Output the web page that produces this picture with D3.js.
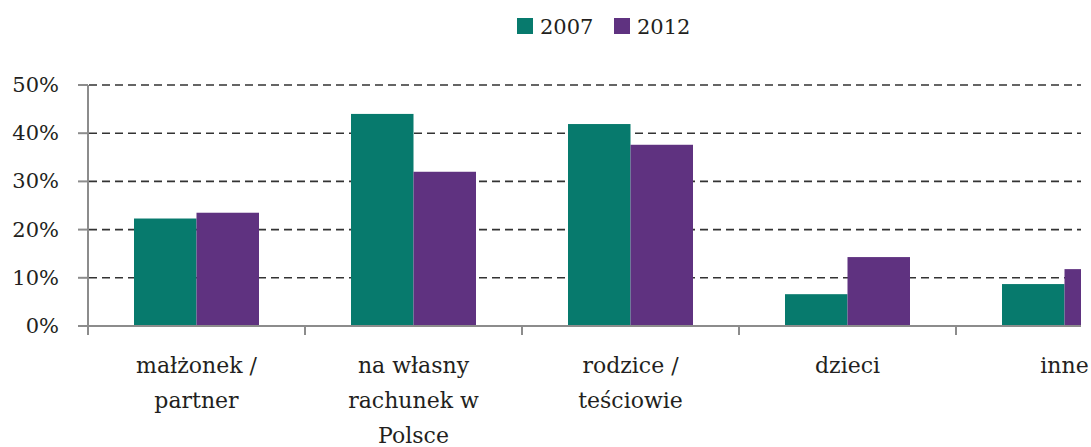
<!DOCTYPE html>
<html><head><meta charset="utf-8">
<script src="https://cdn.jsdelivr.net/npm/d3@7/dist/d3.min.js"></script>
<style>body{margin:0;background:#fff}svg{display:block}text{font-family:"DejaVu Serif",serif;fill:#231f20}</style>
</head><body><svg id="c" width="1091" height="447"></svg>
<script>
const categories = [["małżonek /","partner"],["na własny","rachunek w","Polsce"],["rodzice /","teściowie"],["dzieci"],["inne"]];
const series = ["2007","2012"];
const values2007 = [22.3, 44.0, 41.9, 6.6, 8.7];
const values2012 = [23.5, 32.0, 37.6, 14.3, 11.8];
const colors = ["#077a6d","#5f3280"];
const yTicks = [0,10,20,30,40,50];

const svg = d3.select("#c");
const keys = categories.map((c,i)=>"c"+i);
const x0 = d3.scaleBand().domain(keys).range([88,1173]).paddingInner(0).paddingOuter(0);
const x1 = d3.scaleBand().domain(series).range([0,x0.bandwidth()]).paddingInner(0).paddingOuter(0.736);
const y = d3.scaleLinear().domain([0,50]).range([326,85]);
const vals = [values2007, values2012];

svg.append("defs").append("clipPath").attr("id","clip").append("rect").attr("x",0).attr("y",0).attr("width",1081).attr("height",447);
const plot = svg.append("g").attr("clip-path","url(#clip)");

// gridlines
plot.append("g").selectAll("line").data(yTicks.filter(d=>d>0)).join("line")
  .attr("x1",89).attr("x2",1081).attr("y1",d=>y(d)).attr("y2",d=>y(d))
  .attr("stroke","#333").attr("stroke-width",1.6).attr("stroke-dasharray","8,5");

// bars
series.forEach((s,si)=>{
  plot.append("g").selectAll("rect").data(vals[si]).join("rect")
    .attr("x",(d,i)=>x0(keys[i])+x1(s)).attr("width",x1.bandwidth())
    .attr("y",d=>y(d)).attr("height",d=>y(0)-y(d)).attr("fill",colors[si]);
});

// x axis
const xa = svg.append("g").attr("clip-path","url(#clip)");
xa.append("line").attr("x1",78).attr("x2",1081).attr("y1",326).attr("y2",326).attr("stroke","#8c8c8c").attr("stroke-width",2);
xa.selectAll("line.t").data(keys).join("line").attr("class","t")
  .attr("x1",d=>x0(d)).attr("x2",d=>x0(d)).attr("y1",326).attr("y2",335)
  .attr("stroke","#8c8c8c").attr("stroke-width",2);

// y axis
svg.append("line").attr("x1",88).attr("x2",88).attr("y1",85).attr("y2",335).attr("stroke","#8c8c8c").attr("stroke-width",2);
svg.append("g").selectAll("line").data(yTicks).join("line")
  .attr("x1",78).attr("x2",88).attr("y1",d=>y(d)).attr("y2",d=>y(d)).attr("stroke","#8c8c8c").attr("stroke-width",2);
svg.append("g").selectAll("text").data(yTicks).join("text")
  .attr("x",59).attr("y",d=>y(d)+7).attr("text-anchor","end").attr("font-size",21).text(d=>d+"%");

// category labels
const lab = svg.append("g");
categories.forEach((lines,i)=>{
  const cx = x0(keys[i])+x0.bandwidth()/2;
  const t = lab.append("text").attr("text-anchor","middle").attr("font-size",22).attr("x",cx).attr("y",373);
  lines.forEach((l,j)=>t.append("tspan").attr("x",cx).attr("y",373+j*35).text(l));
});

// legend
const lg = svg.append("g");
const lx = [517, 614];
series.forEach((s,i)=>{
  lg.append("rect").attr("x",lx[i]).attr("y",18).attr("width",16).attr("height",16).attr("fill",colors[i]);
  lg.append("text").attr("x",lx[i]+23).attr("y",34).attr("font-size",21).text(s);
});
</script></body></html>
